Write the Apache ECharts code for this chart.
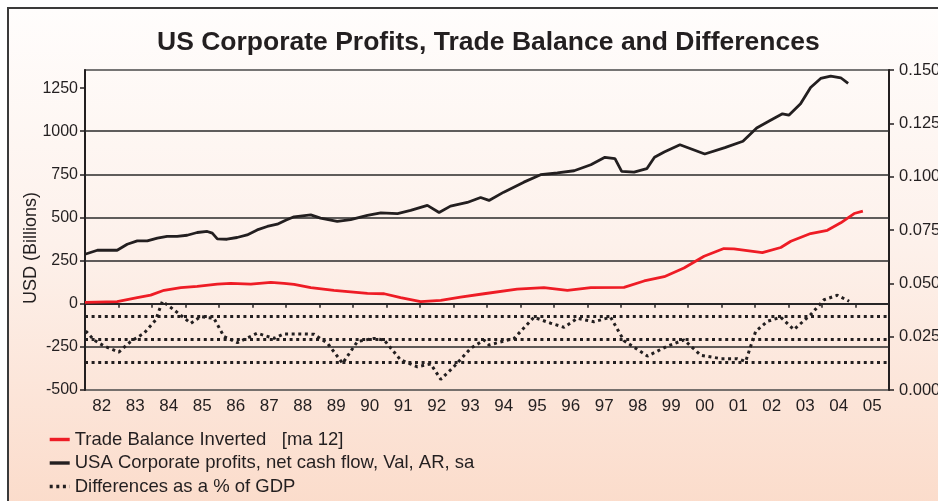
<!DOCTYPE html>
<html>
<head>
<meta charset="utf-8">
<script src="https://cdn.jsdelivr.net/npm/echarts@6/dist/echarts.min.js"></script>
<style>
  html, body { margin: 0; padding: 0; background: #ffffff; }
  #frame {
    position: absolute; left: 7px; top: 7px; width: 960px; height: 520px;
    border-left: 2.5px solid #3a3a3a; border-top: 2.5px solid #3a3a3a;
    background: linear-gradient(to bottom, #fffdfc 0%, #fdf1eb 45%, #fbdac8 100%);
  }
  #chart { position: absolute; left: 0; top: 0; width: 938px; height: 501px; }
</style>
</head>
<body>
<div id="frame"></div>
<div id="chart"></div>
<script>
// year labels on the x axis (centred in each year)
var yearLabels = ['82','83','84','85','86','87','88','89','90','91','92','93',
                  '94','95','96','97','98','99','00','01','02','03','04','05'];

// USA Corporate profits, net cash flow (USD bn)
var profitX = [1982.0,1982.37,1982.96,1983.26,1983.56,1983.86,1984.16,1984.45,1984.75,1985.05,
               1985.35,1985.65,1985.8,1985.95,1986.24,1986.54,1986.84,1987.14,1987.44,1987.74,
               1987.99,1988.24,1988.74,1989.03,1989.53,1989.93,1990.43,1990.83,1991.33,1991.72,
               1992.22,1992.57,1992.91,1993.41,1993.81,1994.06,1994.5,1995.1,1995.6,1996.1,
               1996.6,1997.1,1997.52,1997.82,1998.02,1998.39,1998.77,1999.0,1999.29,1999.5,
               1999.76,2000.5,2001.1,2001.64,2002.05,2002.45,2002.82,2003.01,2003.36,2003.66,
               2003.96,2004.26,2004.56,2004.78];
var profitY = [287,310,310,345,364,364,380,390,391,397,
               413,419,409,376,374,384,399,428,448,461,
               484,504,515,496,477,488,512,527,523,541,
               570,529,566,587,616,599,647,705,748,758,
               771,806,849,841,767,763,783,849,880,899,
               922,868,905,942,1019,1062,1101,1093,1159,1254,
               1306,1320,1310,1277];

// Trade Balance Inverted [ma 12] (USD bn)
var tradeX = [1982.0,1982.96,1983.56,1983.96,1984.36,1984.86,1985.35,1985.95,1986.35,1986.95,
              1987.55,1987.94,1988.24,1988.74,1989.43,1990.43,1990.93,1991.42,1992.02,1992.62,
              1993.21,1993.91,1994.9,1995.7,1996.4,1997.1,1998.09,1998.69,1999.29,1999.88,
              2000.48,2001.07,2001.37,2002.22,2002.77,2003.07,2003.66,2004.16,2004.56,2004.96,
              2005.22];
var tradeY = [8,12,35,50,78,93,101,114,118,114,
              124,118,112,93,78,60,58,35,12,20,
              39,58,85,93,78,93,95,132,157,207,
              275,320,318,296,326,362,407,426,469,523,
              537];

// Differences as a % of GDP (right axis)
var diffX = [1982.02,1982.27,1982.57,1983.01,1983.36,1983.76,1984.11,1984.31,1984.66,1985.16,
             1985.45,1985.85,1986.15,1986.55,1987.14,1987.64,1987.94,1988.44,1988.84,1989.24,
             1989.69,1990.13,1990.63,1990.93,1991.42,1991.92,1992.32,1992.62,1993.01,1993.51,
             1993.91,1994.06,1994.81,1995.4,1995.9,1996.3,1996.7,1997.19,1997.69,1998.09,
             1998.79,1999.39,1999.88,2000.38,2000.98,2001.47,2001.72,2002.02,2002.37,2002.77,
             2003.16,2003.66,2004.06,2004.46,2004.81];
var diffY = [0.0277,0.0234,0.0206,0.0178,0.0227,0.0266,0.0328,0.0416,0.0375,0.0313,
             0.0344,0.0336,0.0250,0.0222,0.0266,0.0242,0.0263,0.0263,0.0261,0.0219,
             0.0125,0.0227,0.0242,0.0234,0.0141,0.0109,0.0122,0.0050,0.0109,0.0195,
             0.0234,0.0211,0.0242,0.0341,0.0313,0.0294,0.0336,0.0320,0.0341,0.0231,
             0.0159,0.0206,0.0235,0.0163,0.0147,0.0147,0.0134,0.0275,0.0322,0.0341,
             0.0283,0.0353,0.0423,0.0444,0.0416];

// reference levels
var gridLevels = [1000, 750, 500, 250, 0, -250];
var diffLevels = [0.0347, 0.0239, 0.0130];

var zip = function(xs, ys) {
  var out = [];
  for (var i = 0; i < xs.length; i++) out.push([xs[i], ys[i]]);
  return out;
};

var ink = '#231f20';
var font = 'Liberation Sans, Arial, sans-serif';

var chart = echarts.init(document.getElementById('chart'), null, {renderer: 'canvas'});
chart.setOption({
  backgroundColor: 'transparent',
  animation: false,
  title: {
    text: 'US Corporate Profits, Trade Balance and Differences',
    left: 152, top: 24,
    textStyle: {fontFamily: font, fontSize: 26.5, fontWeight: 'bold', color: ink}
  },
  graphic: [{
    type: 'text', x: 31, y: 248, rotation: Math.PI / 2,
    style: {text: 'USD (Billions)', fill: ink, font: '18px ' + font,
            textAlign: 'center', textVerticalAlign: 'middle'}
  }],
  legend: {
    orient: 'vertical', left: 48, top: 430, height: 80, padding: 0,
    itemWidth: 20, itemHeight: 14, itemGap: 4.5,
    itemStyle: {opacity: 0},
    lineStyle: {width: 3.4},
    textStyle: {fontFamily: font, fontSize: 18.5, color: ink},
    data: ['Trade Balance Inverted   [ma 12]',
           'USA Corporate profits, net cash flow, Val, AR, sa',
           'Differences as a % of GDP']
  },
  grid: {
    left: 85, right: 49, top: 70, bottom: 111, outerBoundsMode: 'none',
    show: true, borderColor: '#4a4a4a', borderWidth: 1.5, backgroundColor: 'transparent'
  },
  xAxis: [{
    type: 'value', min: 1982, max: 2006, interval: 1,
    axisLine: {lineStyle: {color: ink, width: 2}},
    axisTick: {length: 4, lineStyle: {color: ink, width: 1.5}},
    axisLabel: {show: false},
    splitLine: {show: false}
  }, {
    type: 'category', data: yearLabels, boundaryGap: true, position: 'bottom',
    axisLine: {show: false}, axisTick: {show: false},
    axisLabel: {margin: 8, fontFamily: font, fontSize: 17, color: ink},
    splitLine: {show: false}
  }],
  yAxis: [{
    type: 'value', min: -500, max: 1355, interval: 250,
    axisLine: {show: true, lineStyle: {color: ink, width: 2}},
    axisTick: {show: true, length: 5, lineStyle: {color: ink, width: 1.5}},
    axisLabel: {margin: 7, showMaxLabel: false, fontFamily: font, fontSize: 16, color: ink,
                formatter: function(v) { return String(v); }},
    splitLine: {show: false}
  }, {
    type: 'value', min: 0, max: 0.15, interval: 0.025, position: 'right',
    axisLine: {show: true, lineStyle: {color: ink, width: 2}},
    axisTick: {show: true, length: 5, lineStyle: {color: ink, width: 1.5}},
    axisLabel: {margin: 10, fontFamily: font, fontSize: 16.5, color: ink,
                formatter: function(v) { return v.toFixed(3); }},
    splitLine: {show: false}
  }],
  series: [{
    name: 'Trade Balance Inverted   [ma 12]',
    type: 'line', xAxisIndex: 0, yAxisIndex: 0, symbol: 'none', z: 4,
    lineStyle: {color: '#ee1c25', width: 2.8}, itemStyle: {color: '#ee1c25'},
    data: zip(tradeX, tradeY)
  }, {
    name: 'USA Corporate profits, net cash flow, Val, AR, sa',
    type: 'line', xAxisIndex: 0, yAxisIndex: 0, symbol: 'none', z: 4,
    lineStyle: {color: ink, width: 2.8}, itemStyle: {color: ink},
    data: zip(profitX, profitY),
    markLine: {
      silent: true, symbol: 'none', label: {show: false}, z: 1,
      lineStyle: {color: '#2a2a2a', width: 1.5, type: 'solid'},
      data: gridLevels.map(function(v) { return {yAxis: v}; })
    }
  }, {
    name: 'Differences as a % of GDP',
    type: 'line', xAxisIndex: 0, yAxisIndex: 1, symbol: 'none', z: 3,
    lineStyle: {color: ink, width: 3, type: [3, 3.6]}, itemStyle: {color: ink},
    data: zip(diffX, diffY),
    markLine: {
      silent: true, symbol: 'none', label: {show: false}, precision: 5,
      lineStyle: {color: ink, width: 3, type: [3, 3.6]},
      data: diffLevels.map(function(v) { return {yAxis: v}; })
    }
  }]
});
</script>
</body>
</html>
